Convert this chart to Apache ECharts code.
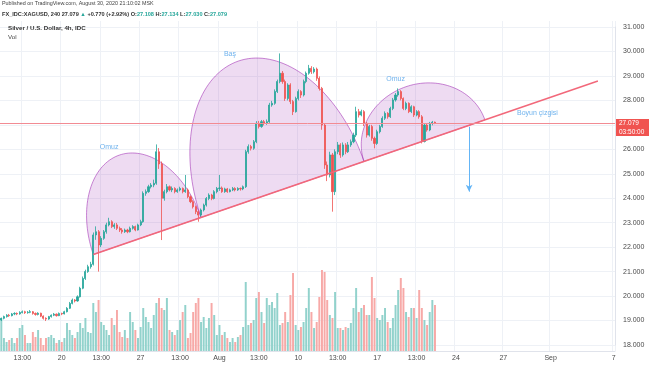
<!DOCTYPE html>
<html><head><meta charset="utf-8">
<script src="https://cdn.jsdelivr.net/npm/echarts@6/dist/echarts.min.js"></script>
<style>html,body{margin:0;padding:0;background:#fff}#c{width:654px;height:366px}</style>
</head><body><div id="c"></div>
<script>
// ---- data (4h candles, XAG/USD) ----
const opens = [
19.02,19.09,19.16,19.22,19.20,19.27,19.29,19.27,19.33,19.36,
19.32,19.34,19.36,19.29,19.25,19.30,19.18,19.09,19.06,19.16,
19.22,19.26,19.20,19.29,19.27,19.36,19.50,19.70,19.84,19.80,
19.97,20.32,20.72,21.00,21.20,21.30,22.50,22.63,22.09,22.36,
22.63,22.91,23.04,22.84,22.91,22.77,22.70,22.63,22.70,22.63,
22.77,22.84,22.70,22.91,23.04,24.20,24.27,24.47,24.54,24.61,
25.90,25.40,24.00,24.27,24.47,24.34,24.40,24.27,24.34,24.40,
24.27,24.34,24.06,23.86,23.65,23.45,23.31,23.52,23.72,23.99,
24.13,23.99,24.27,24.40,24.42,24.27,24.38,24.27,24.34,24.40,
24.34,24.40,24.38,24.47,25.90,26.11,26.04,26.31,27.06,26.93,
27.13,27.06,27.13,27.81,27.88,28.36,28.77,29.11,28.77,28.08,
28.63,27.95,27.54,28.08,28.36,28.22,28.77,29.11,29.31,29.17,
29.28,28.90,28.49,26.99,25.36,24.95,25.77,24.27,25.90,26.18,
25.77,26.18,25.90,26.18,26.31,26.58,27.54,27.40,27.54,27.06,
26.58,26.93,26.45,26.24,26.72,26.93,27.27,27.47,27.33,27.67,
28.02,28.22,28.36,28.08,27.67,27.88,27.54,27.74,27.40,27.54,
27.33,26.32,26.99,26.79,27.06,27.108];
const closes = [
19.09,19.16,19.22,19.20,19.27,19.29,19.27,19.33,19.36,19.32,
19.34,19.36,19.29,19.25,19.30,19.18,19.09,19.06,19.16,19.22,
19.26,19.20,19.29,19.27,19.36,19.50,19.70,19.84,19.80,19.97,
20.32,20.72,21.00,21.20,21.30,22.50,22.63,22.09,22.36,22.63,
22.91,23.04,22.84,22.91,22.77,22.70,22.63,22.70,22.63,22.77,
22.84,22.70,22.91,23.04,24.20,24.27,24.47,24.54,24.61,25.90,
25.40,24.00,24.27,24.47,24.34,24.40,24.27,24.34,24.40,24.27,
24.34,24.06,23.86,23.65,23.45,23.31,23.52,23.72,23.99,24.13,
23.99,24.27,24.40,24.42,24.27,24.38,24.27,24.34,24.40,24.34,
24.40,24.38,24.47,25.90,26.11,26.04,26.31,27.06,26.93,27.13,
27.06,27.13,27.81,27.88,28.36,28.77,29.11,28.77,28.08,28.63,
27.95,27.54,28.08,28.36,28.22,28.77,29.11,29.31,29.17,29.28,
28.90,28.49,26.99,25.36,24.95,25.77,24.27,25.90,26.18,25.77,
26.18,25.90,26.18,26.31,26.58,27.54,27.40,27.54,27.06,26.58,
26.93,26.45,26.24,26.72,26.93,27.27,27.47,27.33,27.67,28.02,
28.22,28.36,28.08,27.67,27.88,27.54,27.74,27.40,27.54,27.33,
26.32,26.99,26.79,27.06,27.108,27.079];
const lows = [
18.98,19.05,19.12,19.15,19.17,19.22,19.22,19.24,19.29,19.27,
19.28,19.30,19.24,19.20,19.21,19.14,19.04,18.98,19.03,19.12,
19.18,19.16,19.18,19.22,19.25,19.33,19.47,19.66,19.74,19.77,
19.94,20.28,20.66,20.95,21.12,21.25,22.30,21.00,22.00,22.30,
22.55,22.85,22.78,22.75,22.70,22.62,22.55,22.58,22.57,22.60,
22.72,22.65,22.68,22.86,23.00,24.10,24.22,24.40,24.45,24.55,
25.20,22.29,23.90,24.20,24.28,24.25,24.20,24.22,24.28,24.20,
24.22,24.00,23.80,23.58,23.35,23.04,23.25,23.46,23.66,23.92,
23.92,23.95,24.20,24.30,24.22,24.22,24.22,24.24,24.29,24.28,
24.30,24.31,24.33,24.42,25.82,25.95,25.98,26.25,26.85,26.88,
26.98,27.00,27.08,27.74,27.82,28.30,28.70,28.68,27.98,28.00,
27.85,27.40,27.50,28.00,28.10,28.16,28.70,29.05,29.08,29.10,
28.80,28.40,26.80,25.20,24.70,24.85,23.45,24.13,25.80,25.65,
25.70,25.80,25.85,26.10,26.25,26.50,27.30,27.35,26.95,26.48,
26.52,26.35,26.04,26.18,26.65,26.88,27.20,27.25,27.28,27.60,
27.95,28.15,28.00,27.60,27.60,27.48,27.48,27.32,27.35,27.25,
26.24,26.28,26.72,26.74,26.98,27.030];
const highs = [
19.12,19.20,19.26,19.27,19.31,19.34,19.33,19.38,19.41,19.40,
19.39,19.43,19.39,19.33,19.34,19.32,19.21,19.13,19.19,19.25,
19.31,19.29,19.33,19.32,19.40,19.55,19.76,19.90,19.88,20.03,
20.38,20.80,21.08,21.28,21.40,22.60,22.85,22.70,22.45,22.70,
23.00,23.20,23.10,22.98,22.99,22.84,22.78,22.76,22.75,22.84,
22.90,22.88,22.96,23.12,24.28,24.36,24.55,24.62,24.76,26.20,
26.05,25.50,24.35,24.58,24.52,24.48,24.45,24.40,24.47,24.44,
24.95,24.40,24.12,23.92,23.70,23.50,23.58,23.78,24.05,24.20,
24.18,24.33,24.46,24.95,24.48,24.43,24.42,24.39,24.46,24.45,
24.45,24.44,24.52,25.98,26.20,26.18,26.38,27.15,27.16,27.20,
27.20,27.22,27.90,27.98,28.45,28.85,29.92,29.20,28.85,28.70,
28.70,28.02,28.15,28.45,28.42,28.85,29.18,29.45,29.40,29.36,
29.34,28.98,28.55,27.05,25.50,25.90,25.85,26.00,26.30,26.25,
26.28,26.25,26.30,26.40,26.68,27.74,27.65,27.62,27.60,27.12,
27.00,27.00,26.52,26.80,27.00,27.35,27.55,27.52,27.74,28.10,
28.30,28.49,28.42,28.12,27.95,27.92,27.80,27.78,27.60,27.60,
27.40,27.06,27.05,27.12,27.16,27.134];
const volumes = [
33,13,9,11,13,8,13,23,26,16,
8,8,19,14,21,13,6,13,14,16,
13,8,11,9,13,28,21,16,13,19,
28,23,33,19,18,48,39,51,29,26,
21,16,33,26,41,19,14,21,13,39,
29,21,13,24,43,34,29,23,36,48,
53,43,41,53,21,19,16,21,31,39,
46,13,18,39,48,53,29,34,23,33,
48,36,16,26,16,19,13,9,13,9,
14,16,24,69,26,28,31,53,59,39,
28,53,46,49,43,58,26,28,39,29,
56,78,26,21,24,29,43,63,39,23,
29,54,81,79,51,36,33,59,23,23,
21,24,23,28,43,63,39,43,46,36,
36,74,53,33,31,36,43,29,23,33,
46,61,73,63,39,34,43,43,33,61,
43,31,26,39,51,46];
const slotCount = 234;                 // 4h slots on the time scale (incl. future space)
const tickIdx  = [8,23,38,53,68,83,98,113,128,143,158,173,191,209,233];
const tickText = ['13:00','20','13:00','27','13:00','Aug','13:00','10','13:00','17','13:00','24','27','Sep','7'];
const lastPrice = 27.079;
const neckline = [[35,21.70],[227,28.79]];
// arcs: [startIdx,startPrice,endIdx,endPrice,apexIdx,apexPrice]
const arcs = [
  [35,21.70,76,23.214,44,25.73],
  [76,23.214,138,25.503,90,29.60],
  [138,25.503,184,27.202,154,28.56]
];
const targetArrow = [[178,26.92],[178,24.27]];
const notes = [[41,26.09,'Omuz'],[87,29.90,'Baş'],[150,28.87,'Omuz'],[204,27.50,'Boyun çizgisi']];

// ---- chart ----
const FONT = 'Liberation Sans, Arial, sans-serif';
const cats = []; for (let i = 0; i < slotCount; i++) cats.push(String(i));
const labelMap = {}; tickIdx.forEach((k, j) => labelMap[k] = tickText[j]);
const UP = '#26a69a', DN = '#ef5350';
const candleData = closes.map((c, i) => [opens[i], c, lows[i], highs[i]]);
const volData = volumes.map((v, i) => ({value: v, itemStyle: {color: closes[i] >= opens[i] ? '#92d2cc' : '#f7a9a7'}}));
const gridColor = '#eef1f6';

const chart = echarts.init(document.getElementById('c'), null, {renderer: 'canvas'});
chart.setOption({
  animation: false,
  backgroundColor: '#ffffff',
  textStyle: {fontFamily: FONT},
  title: [
    {text: 'Published on TradingView.com, August 30, 2020 21:10:02 MSK', left: 2, top: 1, padding: 0,
     textStyle: {fontSize: 5.4, fontWeight: 'normal', color: '#444', fontFamily: FONT}},
    {text: '{b|FX_IDC:XAGUSD, 240} {n|27.079} {g|▲} {n|+0.770 (+2.92%)} {n|O:}{g|27.108} {n|H:}{g|27.134} {n|L:}{g|27.030} {n|C:}{g|27.079}',
     left: 2, top: 11, padding: 0,
     textStyle: {fontSize: 5.6, fontFamily: FONT, rich: {
       b: {fontSize: 5.6, fontWeight: 'bold', color: '#333', fontFamily: FONT},
       n: {fontSize: 5.6, color: '#333', fontFamily: FONT},
       g: {fontSize: 5.6, color: UP, fontFamily: FONT}}}},
    {text: 'Silver / U.S. Dollar, 4h, IDC', left: 8, top: 25, padding: 0,
     textStyle: {fontSize: 6.2, fontWeight: 'bold', color: '#333', fontFamily: FONT}},
    {text: 'Vol', left: 8, top: 34, padding: 0,
     textStyle: {fontSize: 6.2, fontWeight: 'normal', color: '#444', fontFamily: FONT}}
  ],
  grid: [
    {left: 0, right: 39, top: 27, bottom: 21},
    {left: 0, right: 39, top: 251, bottom: 15},
    {left: 0, right: 39, top: 21, bottom: 15}
  ],
  xAxis: [
    {type: 'category', gridIndex: 0, data: cats, boundaryGap: true, show: false},
    {type: 'category', gridIndex: 1, data: cats, boundaryGap: true, show: false},
    {type: 'category', gridIndex: 2, data: cats, boundaryGap: true,
     axisLine: {show: true, lineStyle: {color: '#e0e3eb'}}, axisTick: {show: false},
     axisLabel: {margin: 4, fontSize: 7, color: '#4a4a4a', fontFamily: FONT,
       interval: (i) => labelMap[i] !== undefined,
       formatter: (v, i) => labelMap[i] || ''},
     splitLine: {show: true, interval: (i) => labelMap[i] !== undefined, lineStyle: {color: gridColor, width: 1}}}
  ],
  yAxis: [
    {type: 'value', gridIndex: 0, position: 'right', min: 18, max: 31, interval: 1,
     axisLine: {show: true, lineStyle: {color: '#e0e3eb'}}, axisTick: {show: false},
     axisLabel: {margin: 8, fontSize: 7, color: '#4a4a4a', fontFamily: FONT, formatter: (v) => v.toFixed(3)},
     splitLine: {show: true, lineStyle: {color: gridColor, width: 1}}},
    {type: 'value', gridIndex: 1, min: 0, max: 100, show: false},
    {type: 'value', gridIndex: 2, min: 0, max: 1, show: false}
  ],
  series: [
    {type: 'bar', xAxisIndex: 1, yAxisIndex: 1, data: volData, barWidth: '75%', silent: true},
    {type: 'candlestick', xAxisIndex: 0, yAxisIndex: 0, data: candleData, barWidth: 1.6,
     itemStyle: {color: UP, color0: DN, borderColor: UP, borderColor0: DN, borderWidth: 0.8},
     markLine: {silent: true, symbol: ['none', 'none'], animation: false,
       lineStyle: {color: '#f28b93', width: 1, type: 'solid'},
       label: {show: true, position: 'end', distance: 1,
         formatter: '{e| }\n{a|' + lastPrice.toFixed(3) + '}\n{b|03:50:00}',
         rich: {
           e: {height: 9, lineHeight: 9, fontSize: 6.5},
           a: {backgroundColor: '#f05350', color: '#fff', fontSize: 6.5, height: 9, lineHeight: 9, width: 27, padding: [0, 3], fontFamily: FONT},
           b: {backgroundColor: '#f05350', color: '#fff', fontSize: 6.5, height: 8, lineHeight: 8, width: 27, padding: [0, 3], fontFamily: FONT}
         }},
       data: [{yAxis: lastPrice}]}},
    {type: 'custom', xAxisIndex: 0, yAxisIndex: 0, data: arcs, silent: true, clip: false,
     encode: {x: 0, y: 1},
     renderItem: function (params, api) {
       const s = api.coord([api.value(0), api.value(1)]);
       const e = api.coord([api.value(2), api.value(3)]);
       const p = api.coord([api.value(4), api.value(5)]);
       const cx = (s[0] + e[0]) / 2, cy = (s[1] + e[1]) / 2;
       const dx = e[0] - s[0], dy = e[1] - s[1];
       const len = Math.sqrt(dx * dx + dy * dy);
       const ux = dx / len, uy = dy / len;
       let nx = -uy, ny = ux;
       let d = (p[0] - cx) * nx + (p[1] - cy) * ny;
       if (d < 0) { nx = -nx; ny = -ny; d = -d; }
       const a = len / 2, b = d;
       const pts = [];
       const N = 80;
       for (let k = 0; k <= N; k++) {
         const t = Math.PI * (1 - k / N);
         pts.push([cx + a * Math.cos(t) * ux + b * Math.sin(t) * nx,
                   cy + a * Math.cos(t) * uy + b * Math.sin(t) * ny]);
       }
       return {type: 'polygon', shape: {points: pts},
         style: {fill: 'rgba(156,39,176,0.17)', stroke: 'rgba(156,39,176,0.55)', lineWidth: 1}};
     }},
    {type: 'line', xAxisIndex: 0, yAxisIndex: 0, data: neckline, showSymbol: false, silent: true,
     lineStyle: {color: '#f2687a', width: 1.5}},
    {type: 'line', xAxisIndex: 0, yAxisIndex: 0, data: [], silent: true,
     markLine: {silent: true, animation: false, symbol: ['none', 'arrow'], symbolSize: [5, 7],
       lineStyle: {color: '#64b5f6', width: 1, type: 'solid'}, label: {show: false},
       data: [[{coord: targetArrow[0]}, {coord: targetArrow[1]}]]}},
    {type: 'scatter', xAxisIndex: 0, yAxisIndex: 0, data: notes, symbolSize: 1, silent: true,
     itemStyle: {color: 'rgba(0,0,0,0)'},
     label: {show: true, position: 'inside', formatter: (p) => p.data[2], fontSize: 7, color: '#4a9fe8', fontFamily: FONT}}
  ]
});
</script>
</body></html>
